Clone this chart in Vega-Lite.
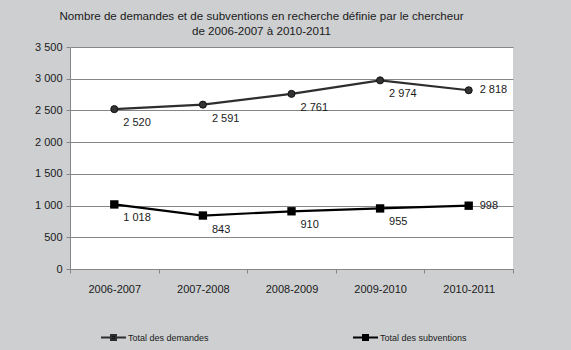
{
  "$schema": "https://vega.github.io/schema/vega-lite/v6.json",
  "width": 443,
  "height": 222,
  "autosize": {"type": "none"},
  "padding": {"left": 70, "top": 47, "right": 58, "bottom": 81},
  "background": "#cdcfd1",
  "title": {
    "text": ["Nombre de demandes et de subventions en recherche définie par le chercheur", "de 2006-2007 à 2010-2011"],
    "anchor": "middle",
    "dx": -30,
    "offset": 3,
    "font": "Liberation Sans",
    "fontSize": 11.6,
    "fontWeight": "normal",
    "lineHeight": 15,
    "color": "#1a1a1a"
  },
  "data": {
    "values": [
      {"annee": "2006-2007", "serie": "Total des demandes", "valeur": 2520},
      {"annee": "2007-2008", "serie": "Total des demandes", "valeur": 2591},
      {"annee": "2008-2009", "serie": "Total des demandes", "valeur": 2761},
      {"annee": "2009-2010", "serie": "Total des demandes", "valeur": 2974},
      {"annee": "2010-2011", "serie": "Total des demandes", "valeur": 2818},
      {"annee": "2006-2007", "serie": "Total des subventions", "valeur": 1018},
      {"annee": "2007-2008", "serie": "Total des subventions", "valeur": 843},
      {"annee": "2008-2009", "serie": "Total des subventions", "valeur": 910},
      {"annee": "2009-2010", "serie": "Total des subventions", "valeur": 955},
      {"annee": "2010-2011", "serie": "Total des subventions", "valeur": 998}
    ]
  },
  "encoding": {
    "x": {
      "field": "annee", "type": "nominal", "bandPosition": 0.5,
      "scale": {"type": "band", "paddingInner": 0, "paddingOuter": 0},
      "axis": {
        "title": null, "labelAngle": 0, "tickBand": "extent",
        "domainColor": "#868686", "tickColor": "#868686", "tickSize": 4,
        "labelFont": "Liberation Sans", "labelFontSize": 11, "labelColor": "#1a1a1a",
        "labelPadding": 10, "grid": false
      }
    },
    "y": {
      "field": "valeur", "type": "quantitative",
      "scale": {"domain": [0, 3500], "nice": false},
      "axis": {
        "title": null, "values": [0, 500, 1000, 1500, 2000, 2500, 3000, 3500],
        "labelExpr": "replace(format(datum.value, ','), ',', ' ')",
        "grid": true, "gridColor": "#868686", "gridOpacity": 1,
        "domainColor": "#868686", "tickColor": "#868686", "tickSize": 4,
        "labelFont": "Liberation Sans", "labelFontSize": 11, "labelColor": "#1a1a1a",
        "labelPadding": 4
      }
    }
  },
  "layer": [
    {
      "mark": {"type": "line", "strokeWidth": 2.2},
      "encoding": {
        "color": {
          "field": "serie", "type": "nominal",
          "scale": {"domain": ["Total des demandes", "Total des subventions"], "range": ["#2e2e2e", "#000000"]},
          "legend": {
            "title": null, "orient": "none", "legendX": 30, "legendY": 277,
            "direction": "horizontal", "columns": 2, "columnPadding": 140,
            "symbolType": "M -1 0 L 1 0 M -0.2 -0.2 L 0.2 -0.2 L 0.2 0.2 L -0.2 0.2 Z",
            "symbolSize": 625, "symbolStrokeWidth": 2, "symbolFillColor": "#000",
            "labelFont": "Liberation Sans", "labelFontSize": 9, "labelColor": "#1a1a1a",
            "labelOffset": 1
          }
        }
      }
    },
    {
      "transform": [{"filter": "datum.serie == 'Total des demandes'"}],
      "mark": {"type": "point", "shape": "circle", "filled": true, "size": 50, "color": "#333333", "stroke": "#111111", "strokeWidth": 1, "opacity": 1}
    },
    {
      "transform": [{"filter": "datum.serie == 'Total des subventions'"}],
      "mark": {"type": "point", "shape": "square", "filled": true, "size": 70, "color": "#000000", "opacity": 1}
    },
    {
      "transform": [{"filter": "datum.annee != '2010-2011'"}],
      "mark": {"type": "text", "align": "left", "baseline": "middle", "dx": 9, "dy": 14, "font": "Liberation Sans", "fontSize": 11, "color": "#1a1a1a"},
      "encoding": {"text": {"field": "valeur", "type": "quantitative", "format": ","}}
    },
    {
      "transform": [{"filter": "datum.annee == '2010-2011'"}],
      "mark": {"type": "text", "align": "left", "baseline": "middle", "dx": 11, "dy": 0, "font": "Liberation Sans", "fontSize": 11, "color": "#1a1a1a"},
      "encoding": {"text": {"field": "valeur", "type": "quantitative", "format": ","}}
    }
  ],
  "config": {
    "view": {"fill": "white", "stroke": null},
    "locale": {"number": {"decimal": ",", "thousands": " ", "grouping": [3], "currency": ["", " $"]}}
  }
}
